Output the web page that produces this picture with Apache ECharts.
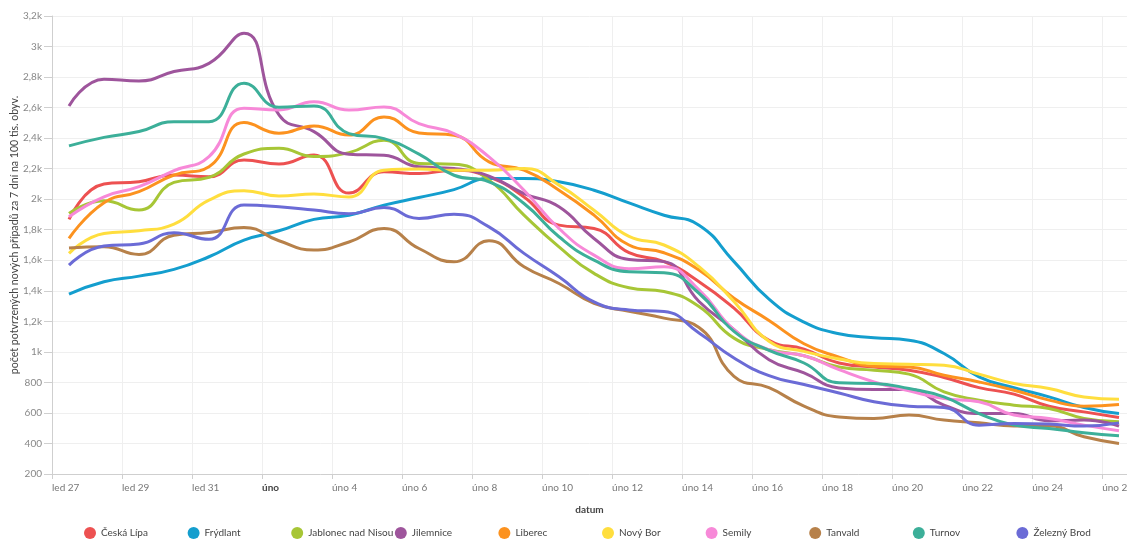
<!DOCTYPE html>
<html><head><meta charset="utf-8">
<script src="https://cdn.jsdelivr.net/npm/echarts@6/dist/echarts.min.js"></script>
<style>html,body{margin:0;padding:0;background:#fff}#c{width:1127px;height:540px}</style>
</head><body><div id="c"></div>
<script>
const dates = ['27.1.','28.1.','29.1.','30.1.','31.1.','1.2.','2.2.','3.2.','4.2.','5.2.','6.2.','7.2.','8.2.','9.2.','10.2.','11.2.','12.2.','13.2.','14.2.','15.2.','16.2.','17.2.','18.2.','19.2.','20.2.','21.2.','22.2.','23.2.','24.2.','25.2.','26.2.'];
const tickLabels = ['led 27','led 29','led 31','úno','úno 4','úno 6','úno 8','úno 10','úno 12','úno 14','úno 16','úno 18','úno 20','úno 22','úno 24','úno 26'];
const yTicks = [200,400,600,800,1000,1200,1400,1600,1800,2000,2200,2400,2600,2800,3000,3200];
const yAxisTitle = 'počet potvrzených nových případů za 7 dní na 100 tis. obyv.';
const xAxisTitle = 'datum';

const ceskaLipa   = [1868,2099,2115,2158,2147,2257,2231,2290,2040,2179,2168,2190,2146,2015,1830,1808,1650,1591,1460,1286,1075,1018,927,901,880,832,766,723,644,607,570];
const frydlant    = [1378,1459,1496,1540,1623,1732,1793,1868,1895,1961,2011,2063,2135,2135,2114,2059,1976,1895,1830,1591,1345,1195,1119,1093,1076,989,836,766,705,636,596];
const jablonec    = [1907,1990,1929,2110,2143,2296,2333,2279,2305,2386,2234,2229,2125,1896,1688,1514,1420,1395,1297,1090,1014,975,901,880,854,738,684,651,629,564,542];
const jilemnice   = [2611,2786,2775,2836,2890,3087,2552,2443,2295,2288,2212,2201,2151,2037,1950,1743,1605,1591,1330,1145,949,862,764,753,753,651,596,596,548,553,514];
const liberec     = [1743,1977,2049,2158,2213,2502,2432,2480,2420,2539,2434,2419,2245,2190,2059,1896,1700,1649,1536,1351,1206,1053,966,906,901,847,803,749,684,644,655];
const novyBor     = [1645,1776,1793,1837,1994,2056,2021,2034,2014,2190,2197,2190,2190,2201,2092,1928,1756,1700,1558,1330,1070,1003,953,923,919,912,854,793,760,705,690];
const semily      = [1885,2016,2082,2187,2279,2596,2585,2639,2584,2604,2495,2430,2277,2059,1808,1634,1545,1558,1406,1145,1014,975,884,803,745,694,673,586,564,520,483];
const tanvald     = [1680,1688,1638,1764,1782,1815,1728,1667,1720,1808,1677,1590,1728,1557,1448,1318,1266,1221,1160,840,765,645,574,564,586,553,535,514,514,444,400];
const turnov      = [2349,2405,2443,2508,2508,2760,2602,2611,2430,2397,2295,2157,2114,1972,1754,1601,1525,1519,1384,1134,1010,927,797,793,760,705,596,520,498,470,450];
const zeleznyBrod = [1568,1693,1706,1780,1737,1962,1951,1929,1905,1946,1874,1902,1819,1645,1492,1328,1275,1264,1123,960,844,786,731,673,644,636,520,531,527,514,535];

const seriesDefs = [
  ['Česká Lípa', ceskaLipa, '#ed5151'],
  ['Frýdlant', frydlant, '#149ece'],
  ['Jablonec nad Nisou', jablonec, '#a7c636'],
  ['Jilemnice', jilemnice, '#9e559c'],
  ['Liberec', liberec, '#fc921f'],
  ['Nový Bor', novyBor, '#ffde3e'],
  ['Semily', semily, '#f789d8'],
  ['Tanvald', tanvald, '#b7814a'],
  ['Turnov', turnov, '#3caf99'],
  ['Železný Brod', zeleznyBrod, '#6b6bd6']
];

const FONT = 'Lato, "Noto Sans", sans-serif';
const chart = echarts.init(document.getElementById('c'));
const yMin = yTicks[0], yMax = yTicks[yTicks.length - 1];
const grid0 = {left: 52, right: 0, top: 16, bottom: 66, outerBoundsMode: 'none', containLabel: false};
const grid1 = {left: 69, right: 8, top: 16, bottom: 66, outerBoundsMode: 'none', containLabel: false};

const legends = seriesDefs.map((s, i) => ({
  left: 84 + i * 103.6, top: 527, padding: 0,
  icon: 'circle', itemWidth: 12, itemHeight: 12,
  textStyle: {fontSize: 10, color: '#444', fontFamily: FONT},
  data: [s[0]]
}));

chart.setOption({
  animation: false,
  color: seriesDefs.map(s => s[2]),
  textStyle: {fontFamily: FONT},
  grid: [grid0, grid1],
  legend: legends,
  graphic: [{
    type: 'text', x: 15, y: 235, rotation: Math.PI / 2,
    style: {text: yAxisTitle, fontSize: 10.6, fill: '#444', fontFamily: FONT, align: 'center', verticalAlign: 'middle'}
  }],
  xAxis: [
    {
      type: 'value', gridIndex: 0, min: 0, max: 30.71, interval: 2,
      name: xAxisTitle, nameLocation: 'middle', nameGap: 31,
      nameTextStyle: {fontSize: 10, fontWeight: 'bold', color: '#444', fontFamily: FONT},
      axisLine: {show: true, lineStyle: {color: '#cfcfcf'}},
      axisTick: {show: true, length: 5, lineStyle: {color: '#cfcfcf'}},
      splitLine: {show: true, lineStyle: {color: '#efefef', width: 1}},
      axisLabel: {
        show: true, align: 'left', margin: 9, fontSize: 10, color: '#777', fontFamily: FONT,
        showMaxLabel: false, hideOverlap: false,
        formatter: v => {
          const i = Math.round(v / 2);
          if (Math.abs(v - i * 2) > 0.01 || i >= tickLabels.length) return '';
          const t = tickLabels[i];
          return t === 'úno' ? '{b|úno}' : t;
        },
        rich: {b: {fontWeight: 'bold', color: '#444', fontSize: 10, fontFamily: FONT}}
      }
    },
    {
      type: 'category', gridIndex: 1, data: dates, boundaryGap: false, show: false
    }
  ],
  yAxis: [
    {
      type: 'value', gridIndex: 0, min: yMin, max: yMax, interval: 200,
      axisLine: {show: true, lineStyle: {color: '#cfcfcf'}},
      axisTick: {show: true, length: 8, lineStyle: {color: '#cfcfcf'}},
      splitLine: {show: true, lineStyle: {color: '#efefef', width: 1}},
      axisLabel: {
        margin: 10, fontSize: 10, color: '#888', fontFamily: FONT,
        formatter: v => v >= 1000 ? String(v / 1000).replace('.', ',') + 'k' : String(v)
      }
    },
    {type: 'value', gridIndex: 1, min: yMin, max: yMax, show: false, splitLine: {show: false}}
  ],
  series: seriesDefs.map(s => ({
    name: s[0], type: 'line', xAxisIndex: 1, yAxisIndex: 1,
    data: s[1], smooth: true, symbol: 'none', showSymbol: false,
    lineStyle: {width: 3, color: s[2]}, itemStyle: {color: s[2]}
  }))
});
</script>
</body></html>
